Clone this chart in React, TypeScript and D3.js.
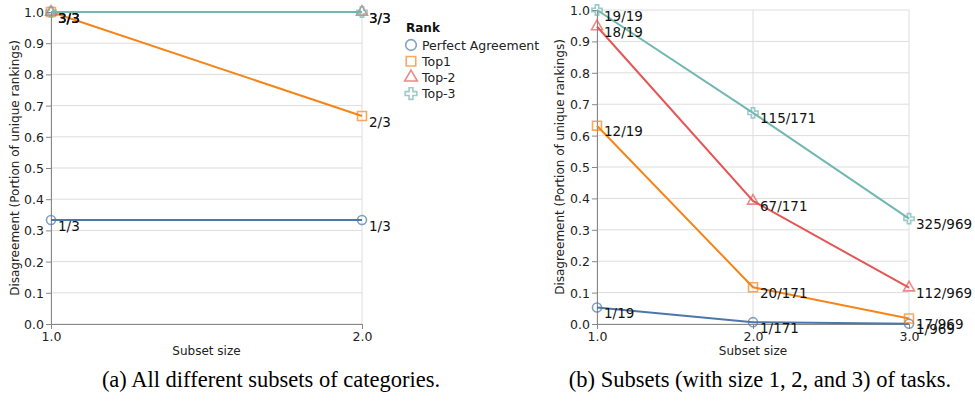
import React, { useEffect, useRef } from 'react';
import * as d3 from 'd3';

// Rank series, shared by both panels
const ranks = ['Perfect Agreement', 'Top1', 'Top-2', 'Top-3'];
const rankColors = ['#4c78a8', '#f58518', '#e45756', '#72b7b2'];
const rankSymbols = [d3.symbolCircle, d3.symbolSquare, d3.symbolTriangle, d3.symbolCross];
const markSizes = [64, 80, 52, 58];
const legendSizes = [90, 90, 70, 75];

// Panel (a): subsets of categories
const catSizes = [1, 2];
const catNum = [
  [1, 1],
  [3, 2],
  [3, 3],
  [3, 3],
];
const catDen = [3, 3];

// Panel (b): subsets of tasks
const taskSizes = [1, 2, 3];
const taskNum = [
  [1, 1, 1],
  [12, 20, 17],
  [18, 67, 112],
  [19, 115, 325],
];
const taskDen = [19, 171, 969];

const yTicks = [0, 0.1, 0.2, 0.3, 0.4, 0.5, 0.6, 0.7, 0.8, 0.9, 1.0];

const captionA = '(a) All different subsets of categories.';
const captionB = '(b) Subsets (with size 1, 2, and 3) of tasks.';
const yTitle = 'Disagreement (Portion of unique rankings)';
const xTitle = 'Subset size';

const FONT = '"DejaVu Sans", Verdana, sans-serif';

interface PanelSpec {
  sizes: number[];
  num: number[][];
  den: number[];
  x0: number;
  x1: number;
  yTop: number;
  yBottom: number;
  titleX: number;
}

function drawPanel(svg: d3.Selection<SVGSVGElement, unknown, null, undefined>, p: PanelSpec) {
  const x = d3.scaleLinear().domain(d3.extent(p.sizes) as [number, number]).range([p.x0, p.x1]);
  const y = d3.scaleLinear().domain([0, 1]).range([p.yBottom, p.yTop]);
  const g = svg.append('g');
  const fmt = d3.format('.1f');

  // grid
  g.append('g')
    .selectAll('line')
    .data(yTicks)
    .enter()
    .append('line')
    .attr('x1', p.x0)
    .attr('x2', p.x1)
    .attr('y1', d => y(d))
    .attr('y2', d => y(d))
    .attr('stroke', '#ddd');
  g.append('g')
    .selectAll('line')
    .data(p.sizes)
    .enter()
    .append('line')
    .attr('x1', d => x(d))
    .attr('x2', d => x(d))
    .attr('y1', p.yTop)
    .attr('y2', p.yBottom)
    .attr('stroke', '#ddd');

  // axes
  const xAxis = g.append('g')
    .attr('transform', `translate(0,${p.yBottom})`)
    .call(d3.axisBottom(x).tickValues(p.sizes).tickFormat(d => fmt(d as number)).tickSize(5).tickPadding(3));
  const yAxis = g.append('g')
    .attr('transform', `translate(${p.x0},0)`)
    .call(d3.axisLeft(y).tickValues(yTicks).tickFormat(d => fmt(d as number)).tickSize(5).tickPadding(2));
  [xAxis, yAxis].forEach(a => {
    a.select('.domain').attr('stroke', '#888');
    a.selectAll('.tick line').attr('stroke', '#888');
    a.selectAll('.tick text')
      .attr('fill', '#222')
      .attr('font-family', FONT)
      .attr('font-size', 12.5);
  });
  yAxis.selectAll('.tick text').attr('dy', '0.36em');

  g.append('text')
    .attr('x', (p.x0 + p.x1) / 2)
    .attr('y', p.yBottom + 31)
    .attr('text-anchor', 'middle')
    .attr('font-family', FONT)
    .attr('font-size', 12)
    .attr('fill', '#222')
    .text(xTitle);

  g.append('text')
    .attr('transform', `translate(${p.titleX},${(p.yTop + p.yBottom) / 2}) rotate(-90)`)
    .attr('text-anchor', 'middle')
    .attr('font-family', FONT)
    .attr('font-size', 12)
    .attr('fill', '#222')
    .text(yTitle);

  const line = d3.line<number>()
    .x((_, i) => x(p.sizes[i]))
    .y(d => y(d));

  ranks.forEach((_, r) => {
    const vals = p.num[r].map((n, i) => n / p.den[i]);
    g.append('path')
      .attr('d', line(vals))
      .attr('fill', 'none')
      .attr('stroke', rankColors[r])
      .attr('stroke-width', 2);
    g.append('g')
      .selectAll('path')
      .data(vals)
      .enter()
      .append('path')
      .attr('transform', (d, i) => `translate(${x(p.sizes[i])},${y(d)})`)
      .attr('d', d3.symbol().type(rankSymbols[r]).size(markSizes[r])())
      .attr('fill', 'none')
      .attr('stroke', rankColors[r])
      .attr('stroke-width', 1.6)
      .attr('opacity', 0.7);
  });

  ranks.forEach((_, r) => {
    g.append('g')
      .selectAll('text')
      .data(p.num[r])
      .enter()
      .append('text')
      .attr('x', (_, i) => x(p.sizes[i]) + 7)
      .attr('y', (n, i) => y(n / p.den[i]) + 10.5)
      .attr('font-family', FONT)
      .attr('font-size', 13.5)
      .attr('fill', '#111')
      .text((n, i) => `${n}/${p.den[i]}`);
  });
}

export default function App() {
  const svgRef = useRef<SVGSVGElement>(null);

  useEffect(() => {
    if (!svgRef.current) return;
    const svg = d3.select(svgRef.current);
    svg.selectAll('*').remove();

    drawPanel(svg, { sizes: catSizes, num: catNum, den: catDen, x0: 51, x1: 362, yTop: 12, yBottom: 324, titleX: 19 });
    drawPanel(svg, { sizes: taskSizes, num: taskNum, den: taskDen, x0: 597, x1: 909, yTop: 10, yBottom: 324, titleX: 564 });

    // legend
    const legend = svg.append('g').attr('transform', 'translate(406,0)');
    legend.append('text')
      .attr('x', 0)
      .attr('y', 32)
      .attr('font-family', FONT)
      .attr('font-size', 12)
      .attr('font-weight', 'bold')
      .attr('fill', '#111')
      .text('Rank');
    ranks.forEach((name, r) => {
      const cy = 45 + r * 16.2;
      legend.append('path')
        .attr('transform', `translate(5,${cy})`)
        .attr('d', d3.symbol().type(rankSymbols[r]).size(legendSizes[r])())
        .attr('fill', 'none')
        .attr('stroke', rankColors[r])
        .attr('stroke-width', 1.6)
        .attr('opacity', 0.7);
      legend.append('text')
        .attr('x', 16)
        .attr('y', cy + 4.5)
        .attr('font-family', FONT)
        .attr('font-size', 12.5)
        .attr('fill', '#222')
        .text(name);
    });

    // captions
    [[captionA, 271], [captionB, 760]].forEach(([t, cx]) => {
      svg.append('text')
        .attr('x', cx as number)
        .attr('y', 387)
        .attr('text-anchor', 'middle')
        .attr('font-family', '"Liberation Serif", "Times New Roman", serif')
        .attr('font-size', 22.5)
        .attr('fill', '#000')
        .text(t as string);
    });
  }, []);

  return (
    <div style={{ position: 'absolute', left: 0, top: 0, width: 975, height: 404, overflow: 'hidden', background: '#fff' }}>
      <svg ref={svgRef} width={975} height={404} />
    </div>
  );
}
